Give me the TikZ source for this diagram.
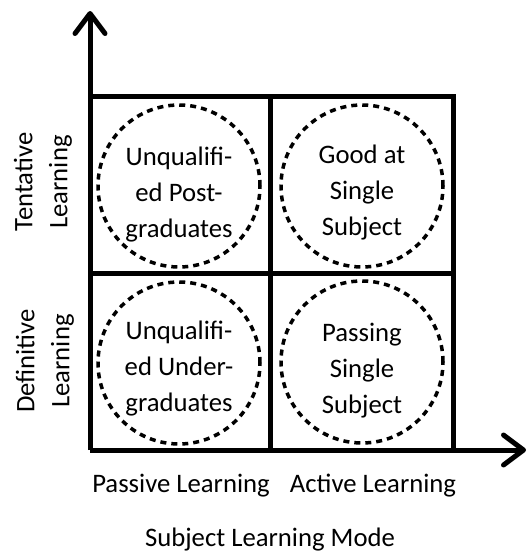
\documentclass[tikz,border=0pt]{standalone}
\usepackage{fontspec}
\setmainfont{Carlito}
\usetikzlibrary{arrows.meta}
\begin{document}
\begin{tikzpicture}[x=1pt,y=-1pt,
  gridline/.style={line width=5pt,line cap=rect},
  axis/.style={line width=5pt,-{Straight Barb[length=20pt,width=30pt,round]}},
  ring/.style={circle,draw,line width=3.5pt,dash pattern=on 6pt off 5pt,minimum size=162pt,inner sep=0pt},
  celltext/.style={align=center,font=\fontsize{26.7}{36}\selectfont},
  axtext/.style={align=center,font=\fontsize{26.7}{35}\selectfont}]
\useasboundingbox (0,0) rectangle (528,554);
\coordinate (o) at (90,450);
\coordinate (ytip) at (90,11);
\coordinate (xtip) at (526,450);
\coordinate (tl) at (90,96);
\coordinate (tr) at (453,96);
\coordinate (br) at (453,450);
\coordinate (mt) at (270,96);
\coordinate (mb) at (270,450);
\coordinate (ml) at (90,273);
\coordinate (mr) at (453,273);
% grid
\draw[gridline] (tl) -- (tr) -- (br);
\draw[gridline] (mt) -- (mb);
\draw[gridline] (ml) -- (mr);
% axes
\draw[axis] (o) -- (ytip);
\draw[axis] (o) -- (xtip);
% circles
\node[ring] (c1) at (179,186) {};
\node[ring] (c2) at (362,186) {};
\node[ring] (c3) at (179,363) {};
\node[ring] (c4) at (362,362) {};
\node[celltext] (t1) at ([yshift=-9pt]c1.center) {Unqualifi-\\ed Post-\\graduates};
\node[celltext] (t2) at ([yshift=-7pt]c2.center) {Good at\\Single\\Subject};
\node[celltext] (t3) at ([yshift=-6pt]c3.center) {Unqualifi-\\ed Under-\\graduates};
\node[celltext] (t4) at ([yshift=-9pt]c4.center) {Passing\\Single\\Subject};
% axis labels
\node[axtext,rotate=90] (yl1) at (43,182) {Tentative\\Learning};
\node[axtext,rotate=90] (yl2) at (45,361) {Definitive\\Learning};
\node[axtext] (xl1) at (181,486) {Passive Learning};
\node[axtext] (xl2) at (373,486) {Active Learning};
\node[axtext] (xt) at (270,540) {Subject Learning Mode};
\end{tikzpicture}
\end{document}
